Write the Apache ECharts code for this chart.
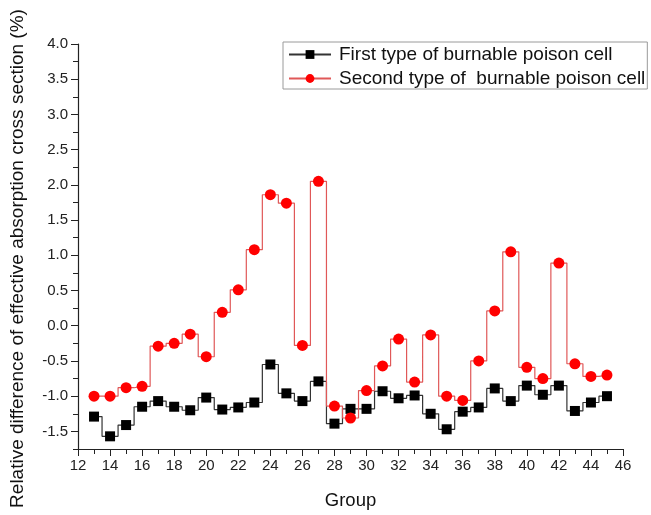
<!DOCTYPE html>
<html>
<head>
<meta charset="utf-8">
<script src="https://cdn.jsdelivr.net/npm/echarts@6/dist/echarts.min.js"></script>
<style>
  html, body { margin: 0; padding: 0; background: #fff; }
  #chart { width: 651px; height: 515px; }
</style>
</head>
<body>
<div id="chart"></div>
<script>
// Energy groups 13..45
const groups = [13, 14, 15, 16, 17, 18, 19, 20, 21, 22, 23, 24, 25, 26, 27, 28, 29,
                30, 31, 32, 33, 34, 35, 36, 37, 38, 39, 40, 41, 42, 43, 44, 45];

// Relative difference (%) for the first burnable poison cell type
const firstType = [-1.29, -1.57, -1.41, -1.15, -1.07, -1.15, -1.20, -1.02, -1.19, -1.16, -1.09,
                   -0.55, -0.96, -1.07, -0.79, -1.39, -1.18, -1.18, -0.93, -1.03, -0.99, -1.25,
                   -1.47, -1.22, -1.16, -0.89, -1.07, -0.85, -0.98, -0.85, -1.21, -1.09, -1.00];

// Relative difference (%) for the second burnable poison cell type
const secondType = [-1.00, -1.00, -0.88, -0.86, -0.29, -0.25, -0.12, -0.44, 0.19, 0.51, 1.08,
                    1.86, 1.74, -0.28, 2.05, -1.14, -1.31, -0.92, -0.57, -0.19, -0.80, -0.13,
                    -1.00, -1.06, -0.50, 0.21, 1.05, -0.59, -0.75, 0.89, -0.54, -0.72, -0.70];

// Labelled y ticks (major); the axis itself runs from -1.75 to 4.0 in 0.25 steps
const yMajorTicks = [-1.5, -1.0, -0.5, 0.0, 0.5, 1.0, 1.5, 2.0, 2.5, 3.0, 3.5, 4.0];
const yRange = { min: -1.75, max: 4.0, step: 0.25 };
const xRange = { min: 12, max: 46, interval: 2 };

const seriesNames = ['First type of burnable poison cell', 'Second type of  burnable poison cell'];

const pair = (vals) => groups.map((g, i) => [g, vals[i]]);

const chart = echarts.init(document.getElementById('chart'), null, { renderer: 'canvas' });
const font = 'Liberation Sans, Arial, sans-serif';
const axisColor = '#222';

chart.setOption({
  backgroundColor: '#fff',
  animation: false,
  grid: { left: 78, right: 28, top: 44, bottom: 66, outerBoundsMode: 'none', containLabel: false },
  legend: {
    orient: 'vertical',
    left: 283,
    top: 42,
    padding: [3, 2, 1, 5],
    itemGap: 5,
    itemWidth: 42,
    itemHeight: 11,
    borderColor: '#9a9a9a',
    borderWidth: 1,
    backgroundColor: '#fff',
    textStyle: { fontFamily: font, fontSize: 19, color: '#111', padding: [0, 0, 0, 3] },
    data: seriesNames
  },
  xAxis: {
    type: 'value',
    min: xRange.min,
    max: xRange.max,
    interval: xRange.interval,
    name: 'Group',
    nameLocation: 'middle',
    nameGap: 42,
    nameTextStyle: { fontFamily: font, fontSize: 18.5, color: '#111' },
    axisLine: { onZero: false, lineStyle: { color: axisColor, width: 1.2 } },
    axisTick: { inside: false, length: 7, lineStyle: { color: axisColor } },
    minorTick: { show: true, splitNumber: 2, length: 5, lineStyle: { color: axisColor } },
    axisLabel: { fontFamily: font, fontSize: 15, color: axisColor, margin: 9 },
    splitLine: { show: false }
  },
  yAxis: [
    {
      // axis line and the short 0.25 ticks
      type: 'value',
      min: yRange.min,
      max: yRange.max,
      interval: yRange.step,
      position: 'left',
      name: 'Relative difference of effective absorption cross section (%)',
      nameLocation: 'middle',
      nameGap: 51,
      nameTextStyle: { fontFamily: font, fontSize: 19, color: '#111', padding: [0, 24, 0, 0] },
      axisLine: { show: true, onZero: false, lineStyle: { color: axisColor, width: 1.2 } },
      axisTick: { inside: false, length: 5, lineStyle: { color: axisColor } },
      axisLabel: { show: false },
      splitLine: { show: false }
    },
    {
      // labelled 0.5 ticks
      type: 'value',
      min: yRange.min,
      max: yRange.max,
      interval: yRange.step,
      position: 'left',
      axisLine: { show: false, onZero: false },
      axisTick: { inside: false, length: 7, customValues: yMajorTicks, lineStyle: { color: axisColor } },
      axisLabel: {
        fontFamily: font, fontSize: 15, color: axisColor, margin: 10,
        customValues: yMajorTicks,
        formatter: (v) => v.toFixed(1)
      },
      splitLine: { show: false }
    }
  ],
  series: [
    {
      name: seriesNames[0],
      type: 'line',
      step: 'middle',
      data: pair(firstType),
      symbol: 'rect',
      symbolSize: 10,
      itemStyle: { color: '#000' },
      lineStyle: { color: '#333', width: 1.2 },
      z: 2
    },
    {
      name: seriesNames[1],
      type: 'line',
      step: 'middle',
      data: pair(secondType),
      symbol: 'circle',
      symbolSize: 11,
      itemStyle: { color: '#f00' },
      lineStyle: { color: '#e05858', width: 1.2 },
      z: 3
    }
  ]
});
</script>
</body>
</html>
